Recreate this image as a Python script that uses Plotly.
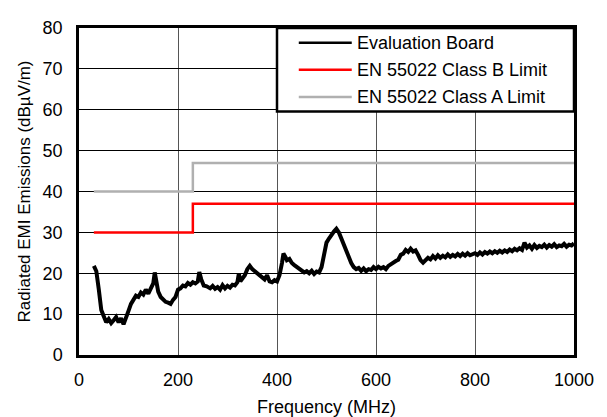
import plotly.graph_objects as go

# ---- data ----
freq_mhz = [30, 35, 40, 45, 50, 55, 60, 65, 70, 75, 80, 85, 90, 95, 100, 105, 110, 115, 120, 125,
            130, 135, 140, 145, 150, 153, 157, 160, 165, 170, 175, 180, 185, 190, 195, 200, 205, 210,
            215, 220, 225, 230, 235, 240, 243, 247, 252, 258, 265, 270, 275, 280, 285, 290, 295, 300,
            305, 310, 315, 320, 323, 326, 330, 335, 340, 345, 350, 355, 360, 365, 370, 375, 380, 385,
            390, 395, 400, 405, 410, 413, 417, 420, 425, 430, 435, 440, 445, 450, 455, 460, 465, 470,
            475, 480, 485, 490, 495, 500, 505, 510, 515, 520, 525, 530, 535, 540, 545, 550, 555, 560,
            565, 570, 575, 580, 585, 590, 595, 600, 605, 610, 615, 620, 625, 630, 635, 640, 645, 650,
            655, 660, 665, 670, 675, 680, 685, 690, 695, 700, 705, 710, 715, 720, 725, 730, 735, 740,
            745, 750, 755, 760, 765, 770, 775, 780, 785, 790, 795, 800, 805, 810, 815, 820, 825, 830,
            835, 840, 845, 850, 855, 860, 865, 870, 875, 880, 885, 890, 895, 900, 905, 910, 915, 920,
            925, 930, 935, 940, 945, 950, 955, 960, 965, 970, 975, 980, 985, 990, 995, 1000]
board_db = [21.8, 20.5, 16.0, 11.0, 9.5, 8.0, 8.8, 7.8, 8.5, 9.3, 8.0, 9.0, 7.5, 9.5, 10.8, 12.5, 13.5, 14.5, 14.2, 15.3,
            14.8, 16.0, 15.0, 16.2, 17.5, 20.2, 18.0, 15.5, 14.2, 13.5, 13.0, 12.8, 12.5, 13.5, 14.2, 16.0, 16.3, 17.0,
            16.8, 17.6, 17.2, 17.8, 17.5, 18.0, 20.3, 18.5, 17.0, 16.8, 16.3, 16.9, 16.2, 16.6, 16.0, 17.1, 16.3, 16.9,
            16.5, 17.2, 17.0, 17.8, 20.0, 18.0, 18.8, 19.5, 21.0, 21.8, 21.0, 20.5, 20.0, 19.8, 19.0, 18.5, 19.5, 18.0,
            17.8, 18.3, 18.0, 19.5, 22.5, 24.8, 24.0, 23.2, 23.5, 22.5, 22.0, 21.5, 21.0, 20.8, 20.2, 20.5, 20.0, 20.6,
            19.8, 20.4, 20.2, 21.5, 25.0, 27.5, 28.5, 29.5, 30.2, 30.9, 30.0, 28.5, 27.0, 25.0, 23.5, 22.5, 21.5, 21.0,
            21.3, 20.6, 21.2, 20.5, 21.0, 20.8, 21.5, 21.0, 21.6, 21.2, 21.5, 21.0, 21.8, 22.2, 22.8, 23.0, 23.3, 24.5,
            24.8, 25.7, 25.2, 26.0, 25.3, 25.6, 24.5, 23.2, 22.6, 23.2, 23.8, 23.4, 24.2, 23.6, 24.4, 23.8, 24.3, 23.9,
            24.6, 24.0, 24.5, 24.1, 24.7, 24.2, 24.8, 24.3, 24.9, 24.4, 24.6, 24.9, 24.5, 25.1, 24.6, 25.2, 24.8, 25.3,
            24.9, 25.4, 25.0, 25.5, 25.1, 25.6, 25.2, 25.8, 25.4, 26.0, 25.6, 26.1, 25.7, 27.5, 26.3, 26.8, 26.0, 26.9,
            26.2, 26.7, 26.4, 27.0, 26.3, 26.9, 26.5, 27.1, 26.4, 26.8, 26.6, 27.2, 26.5, 27.0, 26.8, 27.3]

limit_freq = [30, 230, 230, 1000]
class_b_db = [30, 30, 37, 37]
class_a_db = [40, 40, 47, 47]

series_names = ["Evaluation Board", "EN 55022 Class B Limit", "EN 55022 Class A Limit"]
series_colors = ["#000000", "#ff0000", "#b0b0b0"]

x_ticks = [0, 200, 400, 600, 800, 1000]
y_ticks = [0, 10, 20, 30, 40, 50, 60, 70, 80]

FONT = "Liberation Sans, Arial, sans-serif"

fig = go.Figure()
fig.add_trace(go.Scatter(x=limit_freq, y=class_a_db, mode="lines", name=series_names[2],
                         line=dict(color=series_colors[2], width=2.5), showlegend=False))
fig.add_trace(go.Scatter(x=limit_freq, y=class_b_db, mode="lines", name=series_names[1],
                         line=dict(color=series_colors[1], width=2.5), showlegend=False))
fig.add_trace(go.Scatter(x=freq_mhz, y=board_db, mode="lines", name=series_names[0],
                         line=dict(color=series_colors[0], width=4), showlegend=False))

# manual legend box (paper coordinates)
lx0, lx1, ly0, ly1 = 0.40, 1.0, 0.745, 1.0
fig.add_shape(type="rect", xref="paper", yref="paper", x0=lx0, x1=lx1, y0=ly0, y1=ly1,
              fillcolor="white", line=dict(color="black", width=2.5), layer="above")
leg_y = [0.955, 0.872, 0.789]
for name, col, yy in zip(series_names, series_colors, leg_y):
    fig.add_shape(type="line", xref="paper", yref="paper", x0=0.444, x1=0.551, y0=yy, y1=yy,
                  line=dict(color=col, width=2.5), layer="above")
    fig.add_annotation(xref="paper", yref="paper", x=0.558, y=yy, text=name, showarrow=False,
                       xanchor="left", yanchor="middle", font=dict(family=FONT, size=18, color="black"))

# page body has an 8px margin in the viewer; compensate so the plot area lands at (79,18)-(574,355)
fig.update_layout(
    width=607, height=417,
    margin=dict(l=71, r=41, t=10, b=70),
    paper_bgcolor="white", plot_bgcolor="white",
    font=dict(family=FONT, size=18, color="black"),
    xaxis=dict(range=[0, 1000], tickvals=x_ticks, ticks="", showgrid=True, gridcolor="#555555",
               gridwidth=1, showline=True, linecolor="black", linewidth=2.5, mirror=True,
               zeroline=False, tickfont=dict(size=18), ticklabelstandoff=7,
               title=dict(text="Frequency (MHz)", font=dict(size=18), standoff=12)),
    yaxis=dict(range=[0, 80], tickvals=y_ticks, ticks="", showgrid=True, gridcolor="black",
               gridwidth=1, showline=True, linecolor="black", linewidth=2.5, mirror=True,
               zeroline=False, tickfont=dict(size=18), ticklabelstandoff=10,
               title=dict(text="Radiated EMI Emissions (dBµV/m)", font=dict(size=17), standoff=8)),
)

fig.write_html("out.html")
